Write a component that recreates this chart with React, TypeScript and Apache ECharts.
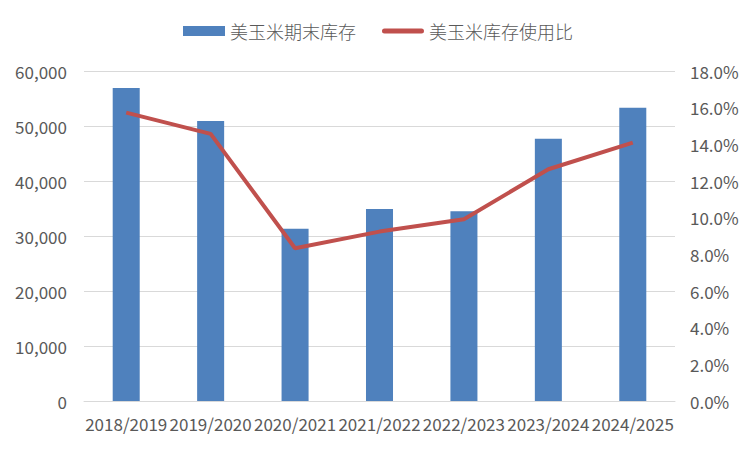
import React, { useEffect, useRef } from "react";
import * as echarts from "echarts";

const categories = ["2018/2019", "2019/2020", "2020/2021", "2021/2022", "2022/2023", "2023/2024", "2024/2025"];
const stocks = [56900, 50900, 31300, 34900, 34500, 47700, 53300];
const ratio = [15.73, 14.57, 8.33, 9.24, 9.91, 12.64, 14.09];
const leftTicks = { min: 0, max: 60000, interval: 10000 };
const rightTicks = { min: 0, max: 18, interval: 2 };
const seriesNames = ["美玉米期末库存", "美玉米库存使用比"];

const FONT = "'Liberation Sans Narrow', 'Noto Sans CJK SC', sans-serif";
const TEXT = "#595959";

export default function App() {
  const ref = useRef<HTMLDivElement>(null);
  useEffect(() => {
    if (!ref.current) return;
    const chart = echarts.init(ref.current, null, { renderer: "svg" });
    chart.setOption({
      animation: false,
      backgroundColor: "#ffffff",
      textStyle: { fontFamily: FONT },
      legend: {
        top: 17,
        left: 178,
        itemGap: 26,
        itemWidth: 42,
        itemHeight: 10,
        textStyle: { fontSize: 18, color: TEXT, fontFamily: "'Noto Sans CJK SC', sans-serif", fontWeight: 300 },
        data: [
          { name: seriesNames[0], icon: "rect" },
          { name: seriesNames[1], icon: "path://M2.5,0 H39.5 A2.5,2.5 0 0 1 39.5,5 H2.5 A2.5,2.5 0 0 1 2.5,0 Z" },
        ],
      },
      grid: { left: 84, right: 75, top: 71, bottom: 49, containLabel: false },
      xAxis: {
        type: "category",
        data: categories,
        axisTick: { show: false },
        axisLine: { show: true, lineStyle: { color: "#d9d9d9", width: 1 } },
        axisLabel: { interval: 0, color: TEXT, fontSize: 17, margin: 14, fontFamily: FONT },
      },
      yAxis: [
        {
          type: "value",
          ...leftTicks,
          axisLine: { show: false },
          axisTick: { show: false },
          splitLine: { lineStyle: { color: "#d9d9d9", width: 1 } },
          axisLabel: {
            color: TEXT,
            fontSize: 17,
            margin: 17,
            fontFamily: FONT,
            formatter: (v: number) => v.toLocaleString("en-US"),
          },
        },
        {
          type: "value",
          ...rightTicks,
          axisLine: { show: false },
          axisTick: { show: false },
          splitLine: { show: false },
          axisLabel: {
            color: TEXT,
            fontSize: 17,
            margin: 15,
            fontFamily: FONT,
            formatter: (v: number) => v.toFixed(1) + "%",
          },
        },
      ],
      series: [
        {
          name: seriesNames[0],
          type: "bar",
          data: stocks,
          barWidth: "32%",
          itemStyle: { color: "#4F81BD" },
        },
        {
          name: seriesNames[1],
          type: "line",
          yAxisIndex: 1,
          data: ratio,
          symbol: "none",
          lineStyle: { color: "#C0504D", width: 4 },
          itemStyle: { color: "#C0504D" },
        },
      ],
    });
    return () => chart.dispose();
  }, []);
  return <div ref={ref} style={{ width: 750, height: 450, margin: -8 }} />;
}
